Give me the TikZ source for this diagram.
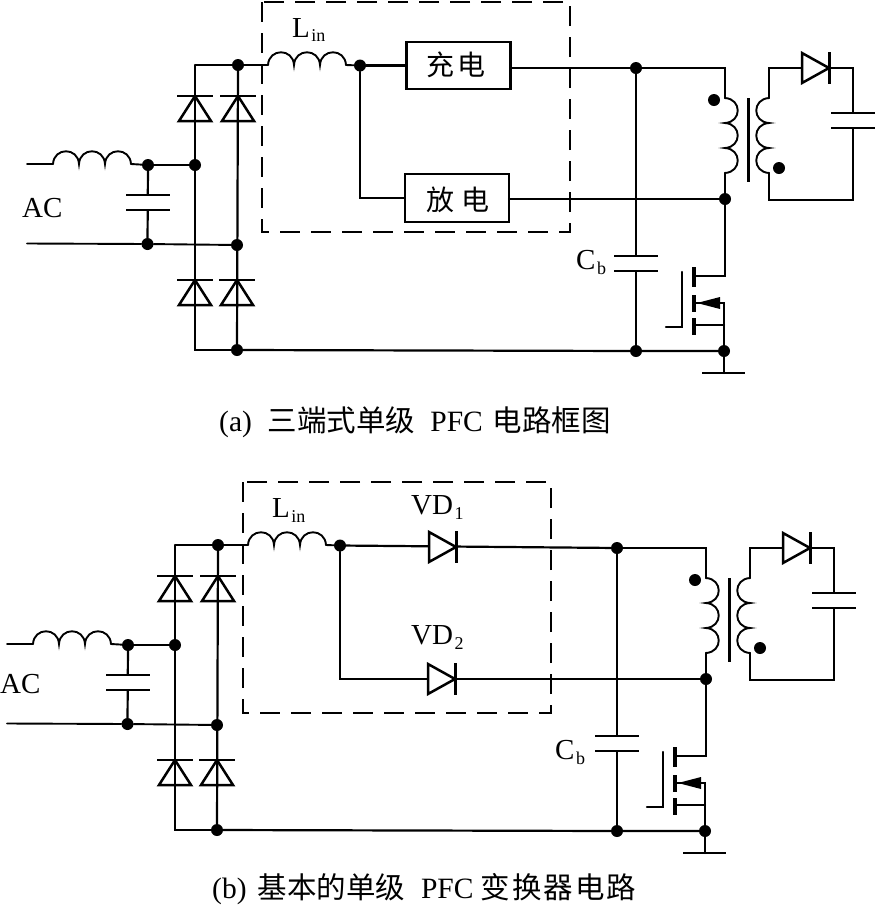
\documentclass[tikz,border=0pt]{standalone}
\usepackage{fontspec}
\setmainfont{Liberation Serif}
\newfontfamily\cjk{Noto Sans CJK SC}
\newcommand\subs[1]{\hspace{1.5pt}\raisebox{-5pt}{\fontsize{18}{20}\selectfont #1}}
\tikzset{
  wire/.style={line width=2.2pt,line join=miter,line cap=round},
  thinw/.style={line width=1.9pt,line cap=round},
  plate/.style={line width=2.7pt},
  jd/.style={circle,fill=black,inner sep=0pt,minimum size=12pt},
  blockbox/.style={draw,line width=2.8pt,inner sep=0pt},
  dashbox/.style={line width=2.2pt,dash pattern=on 20pt off 11pt},
  lab/.style={inner sep=0pt,font=\fontsize{29}{31}\selectfont},
  boxlab/.style={inner sep=0pt,font=\cjk\fontsize{28}{30}\selectfont},
  caplab/.style={inner sep=0pt,font=\fontsize{29.5}{32}\selectfont},
}
\newcommand\coilh[2]{\draw[thinw] (#1,#2)
  .. controls +(1,-17) and +(-1,-17) .. ++(26,0)
  .. controls +(1,-17) and +(-1,-17) .. ++(26,0)
  .. controls +(1,-17) and +(-1,-17) .. ++(26,0);}
\newcommand\coilv[3]{\draw[thinw] (#1,#2)
  .. controls +(#3,1) and +(#3,-1) .. ++(0,25)
  .. controls +(#3,1) and +(#3,-1) .. ++(0,25)
  .. controls +(#3,1) and +(#3,-1) .. ++(0,25);}
\newcommand\diodeup[2]{% x, y of bar
  \draw[plate] (#1-18,#2) -- (#1+18,#2);
  \draw[wire,line width=2.5pt] (#1,#2) -- (#1+16,#2+25) -- (#1-16,#2+25) -- cycle;}
\newcommand\dioderight[2]{% x, y of tip
  \draw[wire,line width=2.5pt,fill=white] (#1,#2) -- (#1-27,#2-15) -- (#1-27,#2+15) -- cycle;
  \draw[plate,line width=3pt] (#1,#2-16) -- (#1,#2+16);}
\newcommand\caph[3]{% x, y top, half width
  \fill[white] (#1-#3,#2+1) rectangle (#1+#3,#2+14);
  \draw[plate] (#1-#3,#2) -- (#1+#3,#2) (#1-#3,#2+15) -- (#1+#3,#2+15);}
% rectifier, input filter and input inductor
\newcommand\LeftPart[3]{\begin{scope}[shift={(#2,#3)}]
  \coordinate (#1iu) at (27,164);
  \coordinate (#1il) at (27,243.5);
  \coordinate (#1ls) at (53,164);
  \coordinate (#1le) at (131,164);
  \node[jd] (#1ac1) at (148,165) {};
  \node[jd] (#1ac2) at (147.5,244) {};
  \node[jd] (#1r1) at (195,165) {};
  \node[jd] (#1r2) at (237,245) {};
  \node[jd] (#1top) at (238,65) {};
  \node[jd] (#1bot) at (237,350) {};
  \node[jd] (#1lx) at (360,65.5) {};
  \coordinate (#1ctl) at (195,65);
  \coordinate (#1cbl) at (195,350);
  \coordinate (#1ln) at (268,65);
  \coordinate (#1lo) at (346,65);
  \draw[thinw] (#1iu) -- (#1ls) (#1le) -- (#1ac1) -- (#1r1);
  \coilh{53}{164}
  \draw[thinw] (#1il) -- (#1ac2) -- (#1r2);
  \draw[wire] (#1ac1) -- (#1ac2);
  \caph{148}{195}{22}
  \draw[wire] (#1ctl) -- (#1top) (#1ctl) -- (#1cbl) -- (#1bot);
  \draw[wire] (#1top) -- (#1bot);
  \diodeup{195}{96}
  \diodeup{238}{96}
  \diodeup{195}{280}
  \diodeup{237}{280}
  \draw[thinw] (#1top) -- (#1ln) (#1lo) -- (#1lx);
  \coilh{268}{65}
  \node[lab,anchor=west] (#1lin) at (292,30) {L\subs{in}};
\end{scope}}
% storage capacitor, switch and flyback transformer
\newcommand\RightPart[3]{\begin{scope}[shift={(#2,#3)}]
  \node[jd] (#1cbt) at (636,68) {};
  \node[jd] (#1cbb) at (636,351) {};
  \node[jd] (#1dr) at (725,199) {};
  \node[jd] (#1gnd) at (724,351) {};
  \coordinate (#1pt) at (725,68);
  \coordinate (#1ps) at (725,98);
  \coordinate (#1pe) at (725,173);
  \coordinate (#1st) at (769,68);
  \coordinate (#1ss) at (769,98);
  \coordinate (#1se) at (769,173);
  \coordinate (#1oc) at (853,68);
  \coordinate (#1ob) at (853,200);
  \coordinate (#1sb) at (769,200);
  \coordinate (#1d) at (725,276);
  \coordinate (#1dg) at (694,276);
  \coordinate (#1g) at (724,373);
  \draw[wire] (#1cbt) -- (#1pt) -- (#1ps);
  \draw[wire] (#1pe) -- (#1dr);
  \coilv{725}{98}{17}
  \coilv{769}{98}{-17}
  \draw[plate,line width=3pt] (748,98) -- (748,182);
  \node[jd] (#1dot1) at (714,100) {};
  \node[jd] (#1dot2) at (779,168) {};
  \draw[wire] (#1ss) -- (#1st) -- (#1oc) -- (#1ob) -- (#1sb) -- (#1se);
  \dioderight{829}{68}
  \caph{853}{113}{22}
  \draw[wire] (#1cbt) -- (#1cbb);
  \caph{636}{256}{22}
  \draw[wire] (#1dr) -- (#1d) -- (#1dg);
  \draw[wire] (#1gnd) -- (#1g);
  \draw[plate] (702,373) -- (745,373);
  \draw[wire] (695,303) -- (724,303) -- (#1gnd);
  \draw[wire] (695,325) -- (724,325);
  \fill (697,303) -- (720,297) -- (720,309) -- cycle;
  \draw[line width=3.4pt] (694,267) -- (694,287) (694,295) -- (694,312) (694,318) -- (694,335);
  \draw[wire,line width=2.5pt] (682,272) -- (682,327) -- (666,327);
\end{scope}}
\begin{document}
\begin{tikzpicture}[x=1pt,y=-1pt]
  \useasboundingbox (0,0) rectangle (876,906);
  \fill[white] (0,0) rectangle (876,906);
  % --- circuit (a)
  \draw[dashbox] (262,2) rectangle (570,232);
  \LeftPart{a}{0}{0}
  \RightPart{a}{0}{0}
  \node[blockbox,minimum width=104pt,minimum height=47pt,fill=white] (chg) at (458.5,65.5) {};
  \node[blockbox,minimum width=104pt,minimum height=48pt,fill=white] (dis) at (457,198) {};
  \node[boxlab] (chgt) at (456,65) {充\hspace{3pt}电};
  \node[boxlab] (dist) at (458,200) {放\hspace{7pt}电};
  \coordinate (alc) at (360,198);
  \coordinate (ach) at (510.5,68);
  \coordinate (adh) at (509,199);
  \draw[wire] (alx) -- (chg.west) (alx) -- (alc) -- (dis.west);
  \draw[wire] (ach) -- (acbt);
  \draw[wire] (adh) -- (adr);
  \draw[wire] (abot) -- (acbb) -- (agnd);
  \node[lab,anchor=west] (aaclab) at (22,208) {AC};
  \node[lab,anchor=west] (acblab) at (576,262) {C\subs{b}};
  \node[caplab,anchor=west] (capa) at (219,422)
    {(a)\hspace{16pt}{\cjk 三端式单级}\hspace{15pt}PFC\hspace{10pt}{\cjk 电路框图}};
  % --- circuit (b)
  \draw[dashbox] (243,482) rectangle (551,713);
  \LeftPart{b}{-20}{480}
  \RightPart{b}{-19}{480}
  \coordinate (blc) at (340,679);
  \draw[wire] (blx) -- (bcbt);
  \draw[wire] (blx) -- (blc) -- (bdr);
  \dioderight{456}{547}
  \dioderight{455}{679}
  \draw[wire] (bbot) -- (bcbb) -- (bgnd);
  \node[lab,anchor=west] (baclab) at (0,684) {AC};
  \node[lab,anchor=west] (bcblab) at (555,752) {C\subs{b}};
  \node[lab,anchor=west] (vd1) at (411,507) {VD\subs{1}};
  \node[lab,anchor=west] (vd2) at (411,637) {VD\subs{2}};
  \node[caplab,anchor=west] (capb) at (212,889)
    {(b)\hspace{11pt}{\cjk 基本的单级}\hspace{16pt}PFC\hspace{7pt}{\cjk 变\hspace{2pt}换\hspace{2pt}器\hspace{2pt}电\hspace{2pt}路}};
\end{tikzpicture}
\end{document}
